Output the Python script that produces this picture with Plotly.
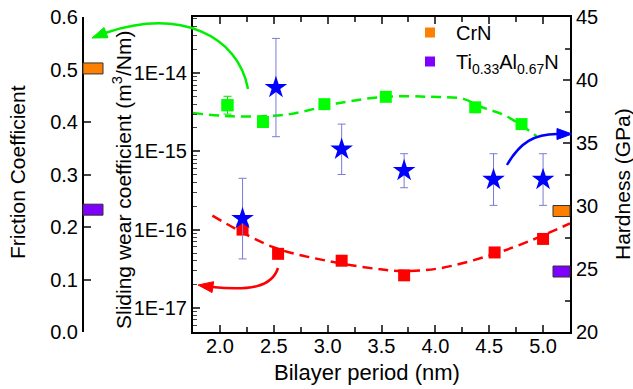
import math
import plotly.graph_objects as go

# ---------------- data ----------------
WEAR_X = [2.21, 2.54, 3.13, 3.71, 4.55, 5.0]
WEAR = [1.0e-16, 4.9e-17, 4.0e-17, 2.6e-17, 5.1e-17, 7.6e-17]

WEAR_FIT_X = [1.93, 2.49, 2.99, 3.49, 3.71, 4.04, 4.51, 4.88, 5.25]
WEAR_FIT = [1.51e-16, 6.0e-17, 4.0e-17, 3.1e-17, 2.95e-17, 3.2e-17, 4.7e-17, 7.2e-17, 1.2e-16]

FRIC_X = [2.07, 2.40, 2.97, 3.54, 4.37, 4.80]
FRIC = [0.432, 0.400, 0.434, 0.448, 0.428, 0.396]
FRIC_ERR_X = [2.07]
FRIC_ERR_Y = [0.432]
FRIC_ERR = [0.017]

FRIC_FIT_X = [1.75, 2.09, 2.40, 2.65, 3.11, 3.53, 3.95, 4.26, 4.41, 4.67, 4.94]
FRIC_FIT = [0.417, 0.411, 0.411, 0.415, 0.436, 0.448, 0.448, 0.444, 0.430, 0.410, 0.373]

HARD_X = [2.21, 2.52, 3.13, 3.71, 4.54, 5.0]
HARD = [29.0, 39.4, 34.5, 32.8, 32.1, 32.1]
HARD_ERR = [3.2, 3.9, 2.0, 1.35, 2.05, 2.05]

# reference monolithic coatings
REF_NAMES = ["CrN", "Ti<sub>0.33</sub>Al<sub>0.67</sub>N"]
REF_COLORS = ["#FF8000", "#8000FF"]
REF_FRIC = [0.502, 0.233]
REF_WEAR = [1.15e-14, 5.3e-17]
REF_HARD = [29.6, 24.8]

X_TICKS = [2.0, 2.5, 3.0, 3.5, 4.0, 4.5, 5.0]
WEAR_TICKS = [1e-17, 1e-16, 1e-15, 1e-14]
WEAR_TICKTEXT = ["1E-17", "1E-16", "1E-15", "1E-14"]
WEAR_MINOR = [k * 10.0 ** n for n in range(-18, -13) for k in range(2, 10)]

FONT = "Arial, Liberation Sans, sans-serif"

# ---------------- layout helpers (pixel -> paper) ----------------
W, H = 633, 389
L, R, T, B = 0, 63, 17, 57
PW, PH = W - L - R, H - T - B


def px(x):
    return (x - L) / PW


def py(y):
    return (T + PH - y) / PH


def path_from(points, cmd="C", close=False):
    p0 = points[0]
    s = f"M {px(p0[0]):.5f},{py(p0[1]):.5f} "
    if cmd == "C":
        s += "C " + " ".join(f"{px(a):.5f},{py(b):.5f}" for a, b in points[1:])
    else:
        s += " ".join(f"L {px(a):.5f},{py(b):.5f}" for a, b in points[1:])
    if close:
        s += " Z"
    return s


def arrowhead(tip, frm, length, half):
    dx, dy = tip[0] - frm[0], tip[1] - frm[1]
    n = math.hypot(dx, dy)
    ux, uy = dx / n, dy / n
    bx, by = tip[0] - ux * length, tip[1] - uy * length
    return [tip, (bx - uy * half, by + ux * half), (bx + uy * half, by - ux * half)]


fig = go.Figure()

# wear (log axis, red)
fig.add_trace(go.Scatter(x=WEAR_FIT_X, y=WEAR_FIT, mode="lines", yaxis="y",
                         line=dict(color="#FF0000", width=2.5, dash="10px,6px", shape="spline", smoothing=1.0),
                         showlegend=False, hoverinfo="skip"))
fig.add_trace(go.Scatter(x=WEAR_X, y=WEAR, mode="markers", yaxis="y",
                         marker=dict(symbol="square", size=12, color="#FF0000"),
                         showlegend=False))

# friction (green)
fig.add_trace(go.Scatter(x=FRIC_FIT_X, y=FRIC_FIT, mode="lines", yaxis="y2",
                         line=dict(color="#00F000", width=2.5, dash="10px,6px", shape="spline", smoothing=1.0),
                         showlegend=False, hoverinfo="skip"))
fig.add_trace(go.Scatter(x=FRIC_ERR_X, y=FRIC_ERR_Y, mode="markers", yaxis="y2",
                         marker=dict(symbol="square", size=12, color="#00FF00"),
                         error_y=dict(type="data", array=FRIC_ERR, color="#00E000", thickness=1, width=4),
                         showlegend=False))
fig.add_trace(go.Scatter(x=FRIC_X, y=FRIC, mode="markers", yaxis="y2",
                         marker=dict(symbol="square", size=12, color="#00FF00"),
                         showlegend=False))

# hardness (blue stars)
fig.add_trace(go.Scatter(x=HARD_X, y=HARD, mode="markers", yaxis="y3",
                         marker=dict(symbol="star", size=17, color="#0000FF"),
                         error_y=dict(type="data", array=HARD_ERR, color="#7B7BD8", thickness=1, width=4),
                         showlegend=False))

# legend entries
for name, col in zip(REF_NAMES, REF_COLORS):
    fig.add_trace(go.Scatter(x=[None], y=[None], mode="markers", name=name,
                             marker=dict(symbol="square", size=10, color=col)))

shapes = []
# reference bars on each axis
for col, fr, we, hd in zip(REF_COLORS, REF_FRIC, REF_WEAR, REF_HARD):
    shapes.append(dict(type="rect", xref="paper", yref="y2", ysizemode="pixel", yanchor=fr,
                       x0=px(83), x1=px(103), y0=-5.5, y1=5.5,
                       fillcolor=col, line=dict(color="#333333", width=1), layer="above"))
    shapes.append(dict(type="rect", xref="paper", yref="y", ysizemode="pixel", yanchor=math.log10(we),
                       x0=px(193), x1=px(213), y0=-5.5, y1=5.5,
                       fillcolor=col, line=dict(color="#333333", width=1), layer="above"))
    shapes.append(dict(type="rect", xref="paper", yref="y3", ysizemode="pixel", yanchor=hd,
                       x0=px(553), x1=px(570), y0=-5.5, y1=5.5,
                       fillcolor=col, line=dict(color="#333333", width=1), layer="above"))

# curved arrows
arrows = [
    ("#00EE00", [(248, 89), (238, 35), (180, 8), (105, 33)], (92, 38)),
    ("#FF0000", [(278, 268), (272, 287), (250, 291), (212, 287)], (198, 285)),
    ("#0000FF", [(507, 165), (520, 142), (535, 134), (557, 134)], (572, 134)),
]
for col, pts, tip in arrows:
    shapes.append(dict(type="path", xref="paper", yref="paper", path=path_from(pts, "C"),
                       line=dict(color=col, width=2.5), layer="above"))
    head = arrowhead(tip, pts[-1], 15, 5.5)
    shapes.append(dict(type="path", xref="paper", yref="paper", path=path_from(head, "L", close=True),
                       fillcolor=col, line=dict(color=col, width=1), layer="above"))

tickfont = dict(family=FONT, size=20, color="black")
titlefont = dict(family=FONT, size=21, color="black")

annotations = [
    dict(text="Friction Coefficient", x=px(17), y=py(172), xref="paper", yref="paper",
         textangle=-90, showarrow=False, font=titlefont, xanchor="center", yanchor="middle"),
    dict(text="Sliding wear coefficient (m<sup>3</sup>/Nm)", x=px(122), y=py(180), xref="paper", yref="paper",
         textangle=-90, showarrow=False, font=titlefont, xanchor="center", yanchor="middle"),
    dict(text="Hardness (GPa)", x=px(622), y=py(184), xref="paper", yref="paper",
         textangle=-90, showarrow=False, font=titlefont, xanchor="center", yanchor="middle"),
    dict(text="Bilayer period (nm)", x=px(367), y=py(372), xref="paper", yref="paper",
         showarrow=False, font=dict(family=FONT, size=22, color="black"), xanchor="center", yanchor="middle"),
]

fig.update_layout(
    width=W, height=H,
    margin=dict(l=L, r=R, t=T, b=B, pad=0),
    paper_bgcolor="white", plot_bgcolor="white",
    font=dict(family=FONT, color="black"),
    xaxis=dict(domain=[px(193), 1], range=[1.75, 5.25], tickvals=X_TICKS, tickformat=".1f",
               ticks="inside", ticklen=7, tickwidth=1.5, showline=True, linecolor="black", linewidth=2,
               mirror="ticks", showgrid=False, zeroline=False, tickfont=tickfont, ticklabelstandoff=-5,
               minor=dict(dtick=0.25, tick0=1.75, ticks="inside", ticklen=5, tickwidth=1.5, showgrid=False)),
    yaxis=dict(type="log", range=[-17.31, -13.28], anchor="x", side="left",
               tickvals=WEAR_TICKS, ticktext=WEAR_TICKTEXT,
               ticks="inside", ticklen=7, tickwidth=1.5, showline=True, linecolor="black", linewidth=2,
               showgrid=False, zeroline=False, tickfont=tickfont,
               minor=dict(tickvals=WEAR_MINOR, ticks="inside", ticklen=4, tickwidth=1.2, showgrid=False)),
    yaxis2=dict(range=[0, 0.6], overlaying="y", anchor="free", position=px(83), side="left",
                dtick=0.1, tick0=0, tickformat=".1f",
                ticks="inside", ticklen=7, tickwidth=1.5, showline=True, linecolor="black", linewidth=2,
                showgrid=False, zeroline=False, tickfont=tickfont),
    yaxis3=dict(range=[20, 45], overlaying="y", anchor="x", side="right",
                dtick=5, tick0=20,
                ticks="inside", ticklen=7, tickwidth=1.5, showline=True, linecolor="black", linewidth=2,
                showgrid=False, zeroline=False, tickfont=tickfont,
                minor=dict(dtick=2.5, ticks="inside", ticklen=5, tickwidth=1.5, showgrid=False)),
    legend=dict(x=px(404), y=py(13), xanchor="left", yanchor="top", bgcolor="rgba(0,0,0,0)",
                font=dict(family=FONT, size=20, color="black"), itemwidth=42, tracegroupgap=0),
    shapes=shapes,
    annotations=annotations,
)

fig.write_html("out.html")
